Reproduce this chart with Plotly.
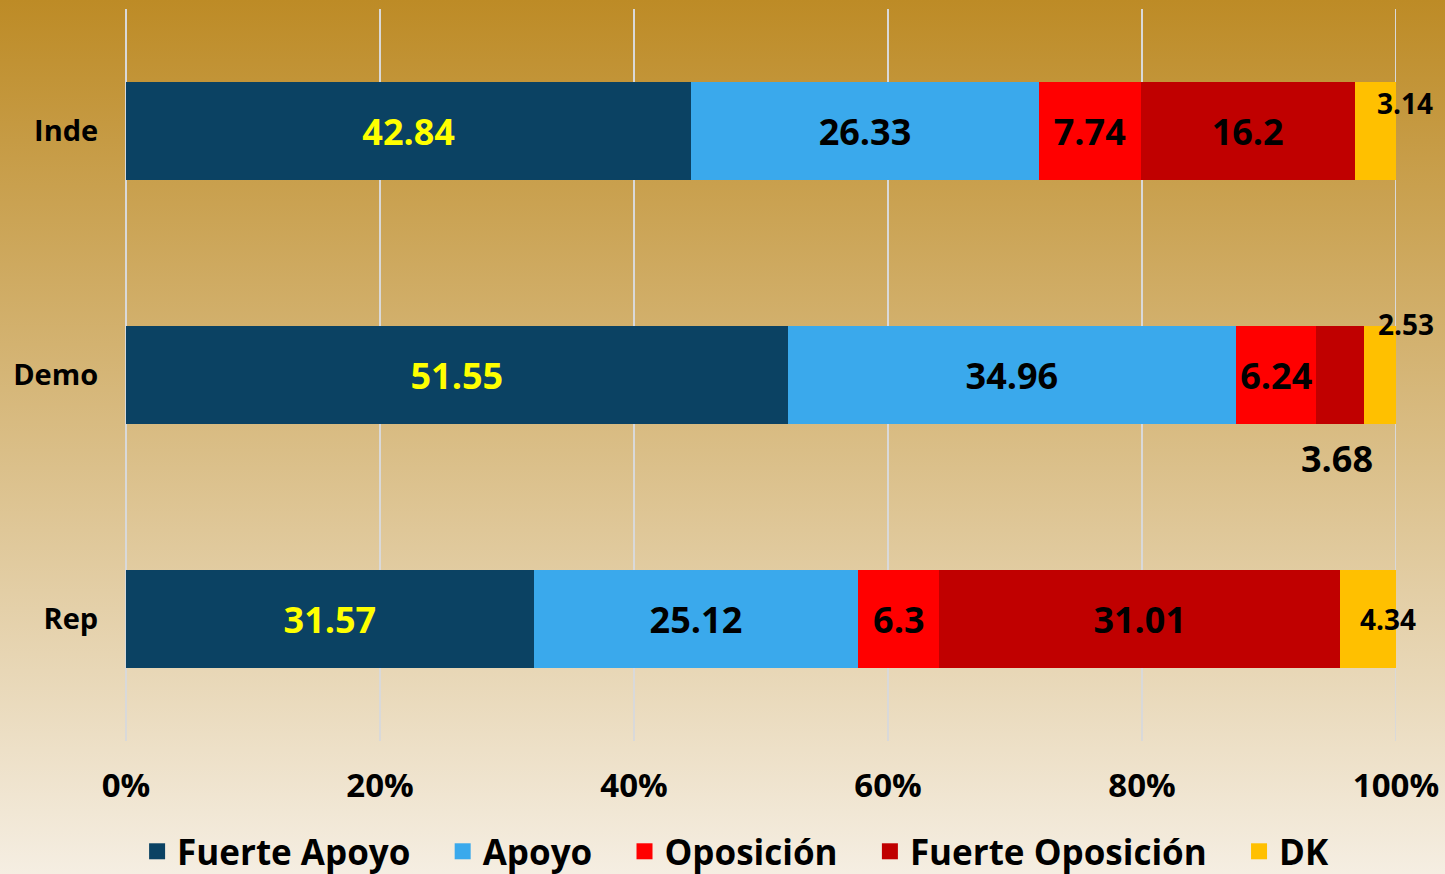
import base64
import plotly.graph_objects as go

# Survey results by party affiliation (raw shares, each row normalised to 100%)
groups = ["Inde", "Demo", "Rep"]
series_names = ["Fuerte Apoyo", "Apoyo", "Oposición", "Fuerte Oposición", "DK"]
fuerte_apoyo = [42.84, 51.55, 31.57]
apoyo = [26.33, 34.96, 25.12]
oposicion = [7.74, 6.24, 6.3]
fuerte_oposicion = [16.2, 3.68, 31.01]
dk = [3.14, 2.53, 4.34]

series_values = [fuerte_apoyo, apoyo, oposicion, fuerte_oposicion, dk]
series_colors = ["#0B4263", "#3AA9EC", "#FF0000", "#C00000", "#FFC000"]
label_colors = ["#FFFF00", "#000000", "#000000", "#000000", "#000000"]

FONT = "Open Sans"
W, H = 1445, 874
M_L, M_R, M_T, M_B = 126, 49, 9, 133
LEGEND_PAD = "\u00a0\u00a0\u00a0"  # extra room between legend entries

fig = go.Figure()

# labels drawn outside the normal centred position get an annotation instead
offset_labels = {
    (3, "Demo"): dict(xshift=-3, yshift=-83, size=36),
    (4, "Inde"): dict(xshift=30, yshift=28, size=28),
    (4, "Demo"): dict(xshift=26, yshift=51, size=28),
    (4, "Rep"): dict(xshift=20, yshift=0, size=28),
}

for i, (name, vals) in enumerate(zip(series_names, series_values)):
    texts = []
    for g, v in zip(groups, vals):
        texts.append("" if (i, g) in offset_labels else f"{v:g}")
    fig.add_trace(go.Bar(
        name=name,
        y=groups,
        x=vals,
        orientation="h",
        marker=dict(color=series_colors[i], line=dict(width=0)),
        text=texts,
        textposition="inside",
        insidetextanchor="middle",
        textangle=0,
        constraintext="none",
        textfont=dict(family=FONT, size=36, color=label_colors[i], weight="bold"),
        showlegend=False,
        hoverinfo="skip",
    ))

# legend entries with square swatches
for i, name in enumerate(series_names):
    label = name + (LEGEND_PAD if i < len(series_names) - 1 else "")
    fig.add_trace(go.Scatter(
        name=label, x=[None], y=[None], mode="markers",
        marker=dict(symbol="square", size=18, color=series_colors[i]),
        showlegend=True, hoverinfo="skip",
    ))

# annotations for the relocated labels, positioned at each segment's centre
totals = [sum(s[j] for s in series_values) for j in range(len(groups))]
for (i, g), opts in offset_labels.items():
    j = groups.index(g)
    start = sum(series_values[k][j] for k in range(i))
    centre = (start + series_values[i][j] / 2) / totals[j] * 100
    fig.add_annotation(
        x=centre, y=g, xref="x", yref="y",
        text=f"{series_values[i][j]:g}", showarrow=False,
        xshift=opts["xshift"], yshift=opts["yshift"],
        font=dict(family=FONT, size=opts["size"], color="#000000", weight="bold"),
    )

# vertical gold-to-cream gradient behind the whole figure
svg = (
    '<svg xmlns="http://www.w3.org/2000/svg" width="100" height="100" preserveAspectRatio="none">'
    '<defs><linearGradient id="g" x1="0" y1="0" x2="0" y2="1">'
    '<stop offset="0" stop-color="#BD8B26"/>'
    '<stop offset="1" stop-color="#F5EEE2"/>'
    '</linearGradient></defs>'
    '<rect width="100" height="100" fill="url(#g)"/></svg>'
)
svg_uri = "data:image/svg+xml;base64," + base64.b64encode(svg.encode()).decode()
pw, ph = W - M_L - M_R, H - M_T - M_B
fig.add_layout_image(
    source=svg_uri, xref="paper", yref="paper",
    x=-M_L / pw, y=1 + M_T / ph, sizex=W / pw, sizey=H / ph,
    xanchor="left", yanchor="top", sizing="stretch", layer="below",
)

# closing gridline at the 100% edge
fig.add_shape(
    type="line", xref="x", yref="paper", x0=100, x1=100, y0=0, y1=1,
    line=dict(color="#D9D9D9", width=2), layer="below",
)

fig.update_layout(
    width=W, height=H,
    margin=dict(l=M_L, r=M_R, t=M_T, b=M_B, pad=0, autoexpand=False),
    barmode="stack",
    barnorm="percent",
    bargap=0.6,
    paper_bgcolor="rgba(0,0,0,0)",
    plot_bgcolor="rgba(0,0,0,0)",
    font=dict(family=FONT, color="#000000"),
    legend=dict(
        orientation="h", traceorder="normal",
        x=0.48, xanchor="center", y=-0.151, yanchor="middle",
        font=dict(family=FONT, size=35, color="#000000", weight="bold"),
        bgcolor="rgba(0,0,0,0)", itemclick=False, itemdoubleclick=False,
    ),
    xaxis=dict(
        range=[0, 100], dtick=20, ticksuffix="%",
        showgrid=True, gridcolor="#D9D9D9", gridwidth=2,
        zeroline=True, zerolinecolor="#D9D9D9", zerolinewidth=2,
        showline=False, ticks="outside", ticklen=15, tickcolor="rgba(0,0,0,0)",
        tickfont=dict(family=FONT, size=33, color="#000000", weight="bold"),
        fixedrange=True,
    ),
    yaxis=dict(
        categoryorder="array", categoryarray=groups, autorange="reversed",
        showgrid=False, zeroline=False, showline=False,
        ticks="outside", ticklen=21, tickcolor="rgba(0,0,0,0)",
        tickfont=dict(family=FONT, size=29, color="#000000", weight="bold"),
        fixedrange=True,
    ),
)

fig.write_html("out.html")
